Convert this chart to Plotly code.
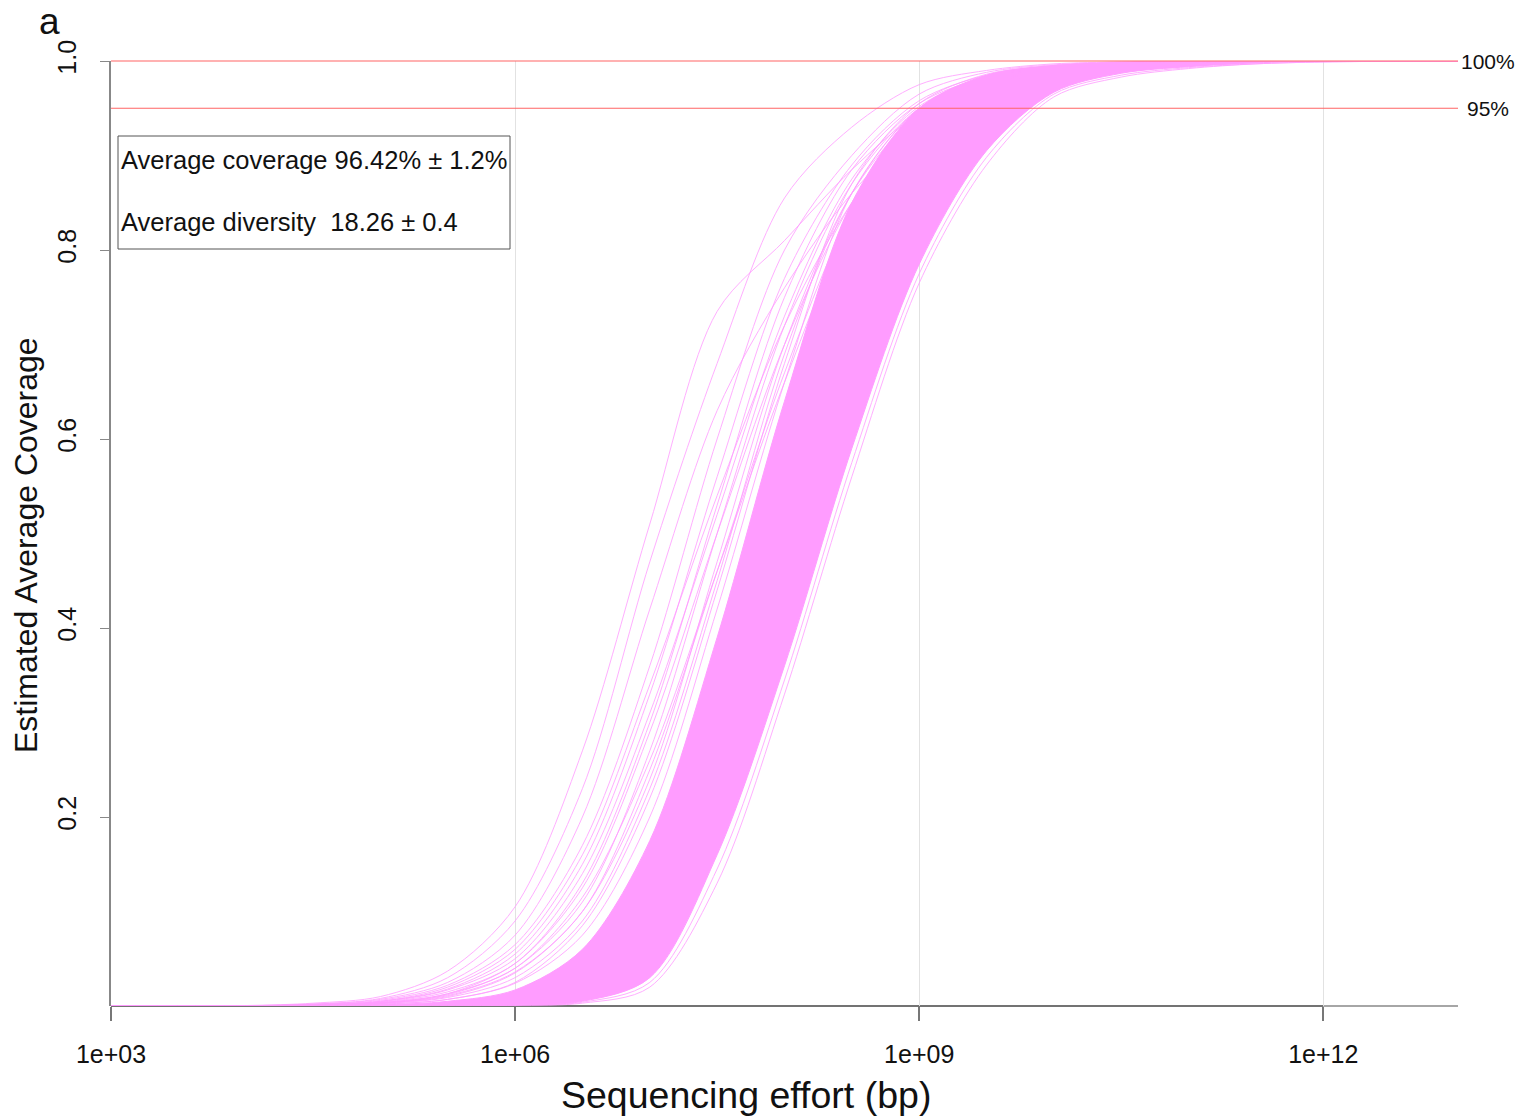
import plotly.graph_objects as go

# Sequencing effort (bp) sampled along the curves
effort_bp = [1e3, 1e4, 3.16e4, 1e5, 3.16e5, 1e6, 3.16e6, 1e7, 3.16e7, 1e8,
             3.16e8, 1e9, 3.16e9, 1e10, 3.16e10, 1e11, 3.16e11, 1e12, 1e13]

# Dense core of curves: left and right boundary
core_left = [0, 0, 0.0003, 0.0012, 0.005, 0.017, 0.06, 0.175, 0.39, 0.64,
             0.85, 0.95, 0.985, 0.995, 0.998, 0.999, 1, 1, 1]
core_right = [0, 0, 0, 0, 0.0003, 0.001, 0.005, 0.03, 0.16, 0.36,
              0.59, 0.785, 0.905, 0.967, 0.987, 0.994, 0.998, 1, 1]

# Individual curves outside the dense core
curve_o1 = [0, 0.0005, 0.003, 0.01, 0.037, 0.105, 0.27, 0.51, 0.735, 0.81,
            0.885, 0.945, 0.975, 0.99, 0.996, 0.999, 1, 1, 1]
curve_o2 = [0, 0.0003, 0.002, 0.008, 0.03, 0.09, 0.23, 0.47, 0.68, 0.855,
            0.93, 0.975, 0.99, 0.997, 0.999, 1, 1, 1, 1]
curve_o3 = [0, 0.0003, 0.002, 0.007, 0.025, 0.075, 0.2, 0.42, 0.63, 0.76,
            0.86, 0.93, 0.97, 0.988, 0.995, 0.998, 1, 1, 1]
curve_o4 = [0, 0.0002, 0.0015, 0.006, 0.022, 0.065, 0.17, 0.36, 0.6, 0.8,
            0.9, 0.965, 0.988, 0.996, 0.999, 1, 1, 1, 1]
curve_o5 = [0, 0.0002, 0.001, 0.005, 0.018, 0.055, 0.15, 0.33, 0.56, 0.77,
            0.89, 0.958, 0.985, 0.995, 0.998, 1, 1, 1, 1]
curve_o6 = [0, 0.0001, 0.001, 0.004, 0.015, 0.045, 0.13, 0.3, 0.53, 0.75,
            0.885, 0.955, 0.983, 0.994, 0.998, 0.999, 1, 1, 1]
curve_o7 = [0, 0.0001, 0.0008, 0.003, 0.012, 0.04, 0.11, 0.27, 0.5, 0.72,
            0.87, 0.95, 0.98, 0.993, 0.997, 0.999, 1, 1, 1]
curve_o8 = [0, 0.0001, 0.0006, 0.003, 0.01, 0.035, 0.1, 0.24, 0.47, 0.7,
            0.86, 0.945, 0.978, 0.992, 0.997, 0.999, 1, 1, 1]
curve_o9 = [0, 0.0001, 0.0007, 0.0035, 0.013, 0.04, 0.115, 0.26, 0.46, 0.66,
            0.83, 0.93, 0.972, 0.99, 0.996, 0.999, 1, 1, 1]
curve_o10 = [0, 0.0002, 0.0012, 0.005, 0.02, 0.06, 0.16, 0.34, 0.54, 0.72,
             0.85, 0.935, 0.975, 0.99, 0.996, 0.999, 1, 1, 1]
curve_f1 = [0, 0.0001, 0.0006, 0.0025, 0.009, 0.03, 0.09, 0.23, 0.45, 0.69,
            0.86, 0.95, 0.982, 0.994, 0.998, 1, 1, 1, 1]
curve_f2 = [0, 0, 0.0004, 0.0018, 0.007, 0.024, 0.075, 0.2, 0.42, 0.66,
            0.86, 0.95, 0.984, 0.995, 0.998, 1, 1, 1, 1]
curve_f3 = [0, 0.0001, 0.0008, 0.003, 0.011, 0.036, 0.1, 0.25, 0.46, 0.67,
            0.84, 0.94, 0.978, 0.992, 0.997, 0.999, 1, 1, 1]
curve_f4 = [0, 0.0001, 0.0009, 0.0035, 0.013, 0.045, 0.125, 0.29, 0.5, 0.7,
            0.85, 0.94, 0.976, 0.991, 0.997, 0.999, 1, 1, 1]
curve_f5 = [0, 0.0002, 0.0011, 0.0045, 0.017, 0.05, 0.14, 0.31, 0.52, 0.73,
            0.875, 0.952, 0.983, 0.994, 0.998, 1, 1, 1, 1]
curve_c0 = [0, 0, 0.0005, 0.002, 0.007, 0.025, 0.085, 0.22, 0.44, 0.68,
            0.87, 0.955, 0.986, 0.995, 0.998, 1, 1, 1, 1]
curve_r1 = [0, 0, 0, 0, 0.0001, 0.0006, 0.003, 0.02, 0.13, 0.33,
            0.56, 0.765, 0.89, 0.962, 0.983, 0.992, 0.997, 0.999, 1]
curve_r2 = [0, 0, 0, 0, 0.0002, 0.0008, 0.004, 0.025, 0.145, 0.345,
            0.575, 0.775, 0.898, 0.965, 0.985, 0.993, 0.997, 0.999, 1]

single_curves = [curve_o1, curve_o2, curve_o3, curve_o4, curve_o5, curve_o6,
                 curve_o7, curve_o8, curve_o9, curve_o10, curve_f1, curve_f2,
                 curve_f3, curve_f4, curve_f5, curve_c0, curve_r1, curve_r2]

x_tick_vals = [1e3, 1e6, 1e9, 1e12]
x_tick_text = ["1e+03", "1e+06", "1e+09", "1e+12"]
y_tick_vals = [0.2, 0.4, 0.6, 0.8, 1.0]
y_tick_text = ["0.2", "0.4", "0.6", "0.8", "1.0"]
ref_levels = [1.0, 0.95]
ref_labels = ["100%", "95%"]
legend_lines = ["Average coverage 96.42% \u00b1 1.2%",
                "Average diversity  18.26 \u00b1 0.4"]

PINK = "#FF9CFF"
FONT = "Liberation Sans, Arial, sans-serif"
W, H = 1520, 1118
L_M, R_M, T_M, B_M = 111, 62, 61, 112
PW = W - L_M - R_M
PH = H - T_M - B_M


def px_to_paper_x(px):
    return (px - L_M) / PW


def px_to_paper_y(py):
    return (H - B_M - py) / PH


fig = go.Figure()

line_style = dict(color=PINK, width=1, shape="spline", smoothing=0.9)

# dense band
fig.add_trace(go.Scatter(x=effort_bp, y=core_left, mode="lines", line=line_style,
                         hoverinfo="skip", showlegend=False))
fig.add_trace(go.Scatter(x=effort_bp, y=core_right, mode="lines", fill="tonexty",
                         fillcolor=PINK, line=line_style,
                         hoverinfo="skip", showlegend=False))

for c in single_curves:
    fig.add_trace(go.Scatter(x=effort_bp, y=c, mode="lines", opacity=0.8,
                             line=line_style, hoverinfo="skip", showlegend=False))

shapes = []
# reference lines
for lv in ref_levels:
    shapes.append(dict(type="line", xref="paper", yref="paper", x0=0, x1=1,
                       y0=lv, y1=lv, line=dict(color="#FF6464", width=1.2),
                       layer="above"))
# bottom axis line (dark up to last tick, grey after)
shapes.append(dict(type="line", xref="paper", yref="paper", x0=0, x1=0.9, y0=0, y1=0,
                   line=dict(color="#444444", width=1.5), layer="below"))
shapes.append(dict(type="line", xref="paper", yref="paper", x0=0.9, x1=1.0, y0=0, y1=0,
                   line=dict(color="#888888", width=1.5), layer="below"))
# legend box
shapes.append(dict(type="rect", xref="paper", yref="paper",
                   x0=px_to_paper_x(118), x1=px_to_paper_x(510),
                   y0=px_to_paper_y(249), y1=px_to_paper_y(136),
                   line=dict(color="#555555", width=1), fillcolor="rgba(0,0,0,0)",
                   layer="above"))

annotations = []
for lv, lab in zip(ref_levels, ref_labels):
    annotations.append(dict(text=lab, xref="paper", yref="paper",
                            x=px_to_paper_x(1488), y=lv, xanchor="center", yanchor="middle",
                            showarrow=False, font=dict(family=FONT, size=21, color="#111111")))
for t, py in zip(legend_lines, [160, 222]):
    annotations.append(dict(text=t, xref="paper", yref="paper",
                            x=px_to_paper_x(119), y=px_to_paper_y(py),
                            xanchor="left", yanchor="middle", showarrow=False,
                            font=dict(family=FONT, size=25.5, color="#111111")))
annotations.append(dict(text="Sequencing effort (bp)", xref="paper", yref="paper",
                        x=px_to_paper_x(746), y=px_to_paper_y(1095),
                        xanchor="center", yanchor="middle", showarrow=False,
                        font=dict(family=FONT, size=37.5, color="#111111")))
annotations.append(dict(text="Estimated Average Coverage", xref="paper", yref="paper",
                        x=px_to_paper_x(26), y=px_to_paper_y(545), textangle=-90,
                        xanchor="center", yanchor="middle", showarrow=False,
                        font=dict(family=FONT, size=32, color="#111111")))
annotations.append(dict(text="a", xref="paper", yref="paper",
                        x=px_to_paper_x(49), y=px_to_paper_y(21),
                        xanchor="center", yanchor="middle", showarrow=False,
                        font=dict(family=FONT, size=37, color="#111111")))

fig.update_layout(
    width=W, height=H, autosize=False,
    margin=dict(l=L_M, r=R_M, t=T_M, b=B_M, pad=0),
    paper_bgcolor="white", plot_bgcolor="white",
    font=dict(family=FONT, color="#111111"),
    shapes=shapes, annotations=annotations,
    xaxis=dict(type="log", range=[3, 13], tickvals=x_tick_vals, ticktext=x_tick_text,
               showgrid=True, gridcolor="#E2E2E2", gridwidth=1,
               showline=False, zeroline=False,
               ticks="outside", ticklen=14, tickwidth=1.5, tickcolor="#777777",
               ticklabelstandoff=12,
               tickfont=dict(family=FONT, size=25, color="#111111")),
    yaxis=dict(range=[0, 1], tickvals=y_tick_vals, ticktext=y_tick_text,
               showgrid=False, zeroline=False, showline=True, linecolor="#888888",
               linewidth=1.5, ticks="outside", ticklen=9, tickcolor="#888888",
               tickangle=-90, ticklabelstandoff=14,
               tickfont=dict(family=FONT, size=25, color="#111111")),
)

fig.write_html("out.html")
